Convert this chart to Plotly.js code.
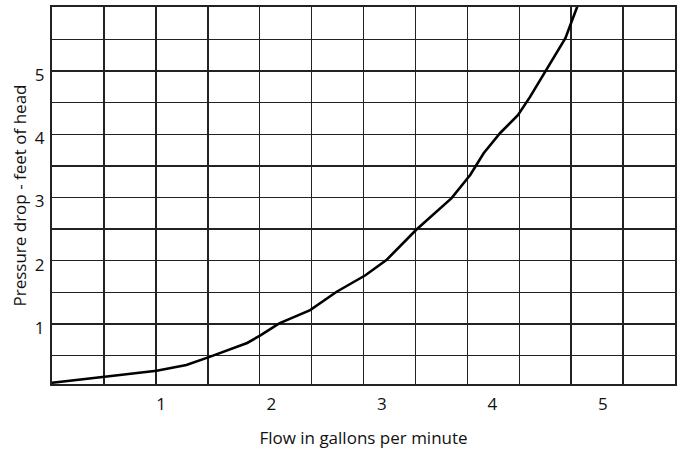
<!DOCTYPE html>
<html>
<head>
<meta charset="utf-8">
<script src="https://cdn.plot.ly/plotly-3.0.1.min.js"></script>
<style>html,body{margin:0;padding:0;background:#fff;}#chart{width:681px;height:452px;}</style>
</head>
<body>
<div id="chart"></div>
<script>
// Flow (gallons per minute) and pressure drop (feet of head)
var flowGpm = [0.01, 0.28, 0.51, 0.96, 1.23, 1.44, 1.78, 1.90, 2.07, 2.35, 2.59, 2.85, 3.04, 3.31, 3.63, 3.80, 3.92, 4.07, 4.23, 4.34, 4.49, 4.66, 4.77];
var pressureFt = [0.07, 0.13, 0.17, 0.26, 0.35, 0.48, 0.70, 0.82, 1.01, 1.22, 1.51, 1.77, 2.01, 2.49, 2.99, 3.36, 3.70, 4.02, 4.30, 4.59, 5.02, 5.52, 6.03];

var xTickVals = [1, 2, 3, 4, 5];
var xTickText = ['1', '2', '3', '4', '5'];
var yTickVals = [0.5, 1, 1.5, 2, 2.5, 3, 3.5, 4, 4.5, 5, 5.5];
var yTickText = ['', '1', '', '2', '', '3', '', '4', '', '5', ''];

var font = {family: 'Open Sans, Noto Sans, sans-serif', size: 17, color: '#111'};

var traces = [{
  x: flowGpm, y: pressureFt, type: 'scatter', mode: 'lines',
  line: {color: '#000', width: 2.6}, hoverinfo: 'skip', showlegend: false
}, {
  x: [], y: [], xaxis: 'x2', yaxis: 'y', type: 'scatter', mode: 'lines', showlegend: false
}];

var layout = {
  width: 681, height: 452,
  margin: {l: 52, r: 6, t: 7, b: 68},
  paper_bgcolor: '#fff', plot_bgcolor: '#fff',
  font: font,
  showlegend: false,
  xaxis: {
    range: [0.0136, 5.652], tickmode: 'array', tickvals: xTickVals, ticktext: xTickText,
    showgrid: false, zeroline: false, ticks: '', showline: true, mirror: true,
    linecolor: '#222', linewidth: 2, tickfont: font, ticklabelstandoff: 4,
    title: {text: 'Flow in gallons per minute', font: font, standoff: 18}
  },
  xaxis2: {
    overlaying: 'x', side: 'bottom', range: [0, 12], tickmode: 'linear', tick0: 0, dtick: 1,
    showgrid: true, gridcolor: '#222', gridwidth: 1.5, zeroline: false,
    showticklabels: false, ticks: '', showline: false
  },
  yaxis: {
    range: [0.051, 6.012], tickmode: 'array', tickvals: yTickVals, ticktext: yTickText,
    showgrid: true, gridcolor: '#222', gridwidth: 1.5, zeroline: false, ticks: '',
    showline: true, mirror: true, linecolor: '#222', linewidth: 2,
    tickfont: font, ticklabelshift: 4, ticklabelstandoff: 2,
    title: {text: 'Pressure drop - feet of head', font: font, standoff: 4}
  }
};

Plotly.newPlot('chart', traces, layout, {staticPlot: true, displayModeBar: false});
</script>
</body>
</html>
